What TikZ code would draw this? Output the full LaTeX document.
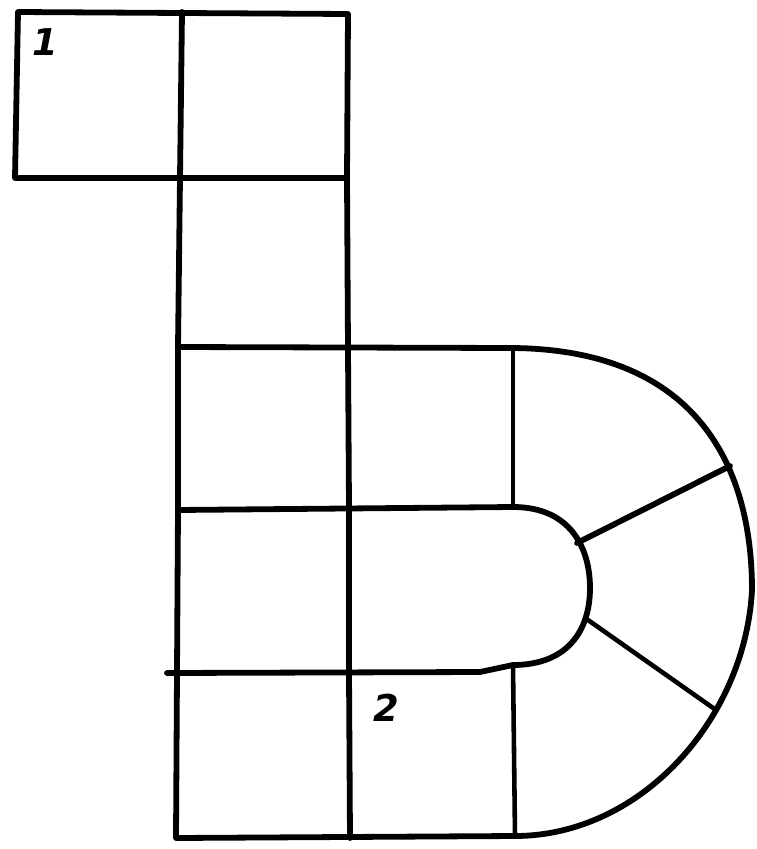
\documentclass[tikz,border=0pt]{standalone}
\usepackage{tikz}
\usepackage{fontspec}
\newfontfamily\numfont{DejaVu Sans}
\usetikzlibrary{calc}
\tikzset{
  wall/.style={line width=3.3pt, line cap=round, line join=round},
  thinwall/.style={line width=2.6pt, line cap=round, line join=round},
  cellno/.style={inner sep=0pt, font=\numfont\fontsize{21}{21}\selectfont\bfseries\itshape},
}
\begin{document}
\begin{tikzpicture}[x=0.02cm, y=-0.02cm]
    \useasboundingbox (0,0) rectangle (757,849);
    % Grid points
    \coordinate (a0) at (18,12);   \coordinate (a1) at (15,178);
    \coordinate (b0) at (182,12);  \coordinate (b1) at (180,178);
    \coordinate (b2) at (178,347); \coordinate (b3) at (178,510);
    \coordinate (b4) at (177,673); \coordinate (b5) at (176,838);
    \coordinate (c0) at (348,14);  \coordinate (c1) at (347,178);
    \coordinate (c2) at (348,349); \coordinate (c3) at (349,507);
    \coordinate (c4) at (349,673); \coordinate (c5) at (350,838);
    \coordinate (d2) at (513,348); \coordinate (d3) at (513,507);
    \coordinate (d4) at (513,665); \coordinate (d5) at (515,836);
    \coordinate (k4) at (167,673);
    % Squares on the left
    \draw[wall] (a0) -- (c0) -- (c1) -- (a1) -- cycle;
    \draw[wall] (b0) -- (b1) -- (b2) -- (b3) -- (b4) -- (b5) -- (d5);
    \draw[wall] (b1) -- (c1) -- (c2) -- (c3) -- (c4) -- (c5);
    \draw[wall] (b2) -- (d2);
    \draw[wall] (b3) -- (d3);
    \draw[wall] (k4) -- (480,672) -- (d4);
    \draw[thinwall] (d2) -- (d3);
    \draw[thinwall] (d4) -- (d5);
    % Outer curve
    \draw[wall] (d2) .. controls (700,350) and (752,470) .. (752,590)
      coordinate (e0) .. controls (745,720) and (640,836) .. (d5);
    % Inner curve
    \draw[wall] (d3) .. controls (572,507) and (590,550) .. (590,588)
      coordinate (f0) .. controls (590,630) and (568,665) .. (d4);
    % Spokes
    \coordinate (g1) at (577,543); \coordinate (h1) at (730,466);
    \coordinate (g2) at (588,620); \coordinate (h2) at (716,710);
    \draw[wall] (g1) -- (h1);
    \draw[thinwall] (g2) -- (h2);
    % Numbers
    \node[cellno] (n1) at (45,42) {1};
    \node[cellno] (n2) at (386,708) {2};
\end{tikzpicture}
\end{document}
